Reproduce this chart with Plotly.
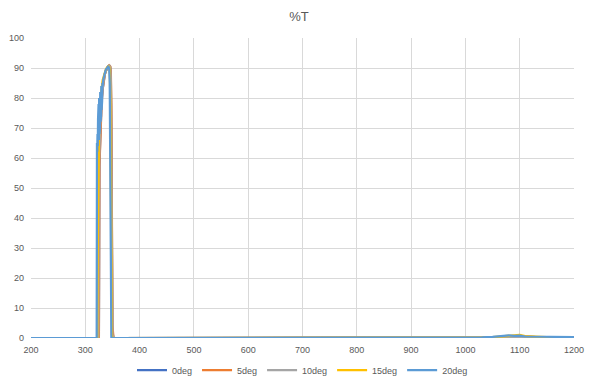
import plotly.graph_objects as go

# Wavelength grid (nm) shared by 0/5/10/15 deg series
wl = [200, 318, 320, 322, 323, 324, 325, 326, 328, 330, 332, 334, 336, 338, 340, 342,
      344, 345, 346, 347, 348, 349, 350, 352, 1000, 1030, 1050, 1070, 1090, 1100,
      1110, 1130, 1150, 1170, 1200]

t_0deg  = [0, 0, 0, 0, 0, 0, 0, 58, 72, 79, 83, 86, 88, 89, 90, 90.5,
           90.8, 90.7, 90.3, 88, 70, 25, 2, 0, 0, 0.1, 0.2, 0.3, 0.4, 0.5,
           0.4, 0.3, 0.3, 0.3, 0.3]
t_5deg  = [0, 0, 0, 0, 0, 0, 0, 57, 71, 78, 83, 86, 88, 89, 90, 90.6,
           90.9, 90.8, 90.5, 89, 78, 40, 4, 0, 0, 0.1, 0.2, 0.3, 0.5, 0.6,
           0.5, 0.3, 0.3, 0.3, 0.3]
t_10deg = [0, 0, 0, 0, 0, 0, 55, 66, 75, 80, 84, 86.5, 88, 89.2, 90, 90.6,
           90.8, 90.6, 90, 86, 62, 20, 1, 0, 0, 0.1, 0.2, 0.3, 0.4, 0.5,
           0.4, 0.3, 0.3, 0.3, 0.3]
t_15deg = [0, 0, 0, 0, 30, 61, 66, 72, 79, 83, 86, 87.5, 88.8, 89.6, 90.2, 90.5,
           90.4, 89.5, 80, 40, 8, 1, 0, 0, 0, 0.2, 0.3, 0.5, 0.8, 1.0,
           0.6, 0.4, 0.3, 0.3, 0.3]

# 20 deg series (noisy, finer sampling)
wl_20 = [200, 318, 320, 321, 321.5, 322, 322.5, 323, 323.5, 324, 324.5, 325, 325.5,
         326, 326.5, 327, 327.5, 328, 328.5, 329, 329.5, 330, 330.5, 331, 331.5,
         332, 333, 334, 335, 336, 337, 338, 340, 342, 343, 344, 345, 346, 347,
         348, 350, 1000, 1030, 1050, 1070, 1080, 1090, 1100, 1110, 1130, 1150,
         1170, 1200]
t_20deg = [0, 0, 0, 0, 65, 62, 68, 64, 73, 66, 78, 66, 80, 68, 77, 70, 82, 72, 80,
           74, 84, 76, 83, 79, 85, 84, 86, 87, 88, 88.5, 89, 89.5, 90, 90.4, 90.3,
           89.8, 85, 40, 5, 0, 0, 0, 0.2, 0.4, 0.6, 0.9, 0.7, 0.8, 0.5, 0.4,
           0.3, 0.3, 0.3]

names = ["0deg", "5deg", "10deg", "15deg", "20deg"]
colors = ["#4472C4", "#ED7D31", "#A5A5A5", "#FFC000", "#5B9BD5"]

fig = go.Figure()
series = [(wl, t_0deg), (wl, t_5deg), (wl, t_10deg), (wl, t_15deg), (wl_20, t_20deg)]
for (x, y), n, c in zip(series, names, colors):
    fig.add_trace(go.Scatter(x=x, y=y, mode="lines", name=n,
                             line=dict(color=c, width=2.25)))

fig.update_layout(
    width=598, height=391,
    margin=dict(l=31, r=24, t=38, b=53, autoexpand=False),
    paper_bgcolor="white", plot_bgcolor="white",
    font=dict(family="Liberation Sans, Arial, sans-serif", size=9, color="#595959"),
    title=dict(text="%T", x=0.5, xanchor="center", y=0.957, yanchor="middle",
               font=dict(size=13, color="#595959")),
    showlegend=True,
    legend=dict(orientation="h", x=0.5, xanchor="center", y=-0.107, yanchor="middle",
                font=dict(size=9, color="#595959"), itemwidth=30),
)
fig.update_xaxes(range=[200, 1200], dtick=100, tick0=200, showgrid=True,
                 gridcolor="#D9D9D9", gridwidth=1, zeroline=False, showline=False,
                 ticks="", ticklabelstandoff=5, automargin=False,
                 tickfont=dict(size=9, color="#595959"))
fig.update_yaxes(range=[0, 100], dtick=10, showgrid=True, gridcolor="#D9D9D9",
                 gridwidth=1, zeroline=False, showline=False, ticks="",
                 ticklabelstandoff=6, automargin=False,
                 tickfont=dict(size=9, color="#595959"))

fig.write_html("out.html")
